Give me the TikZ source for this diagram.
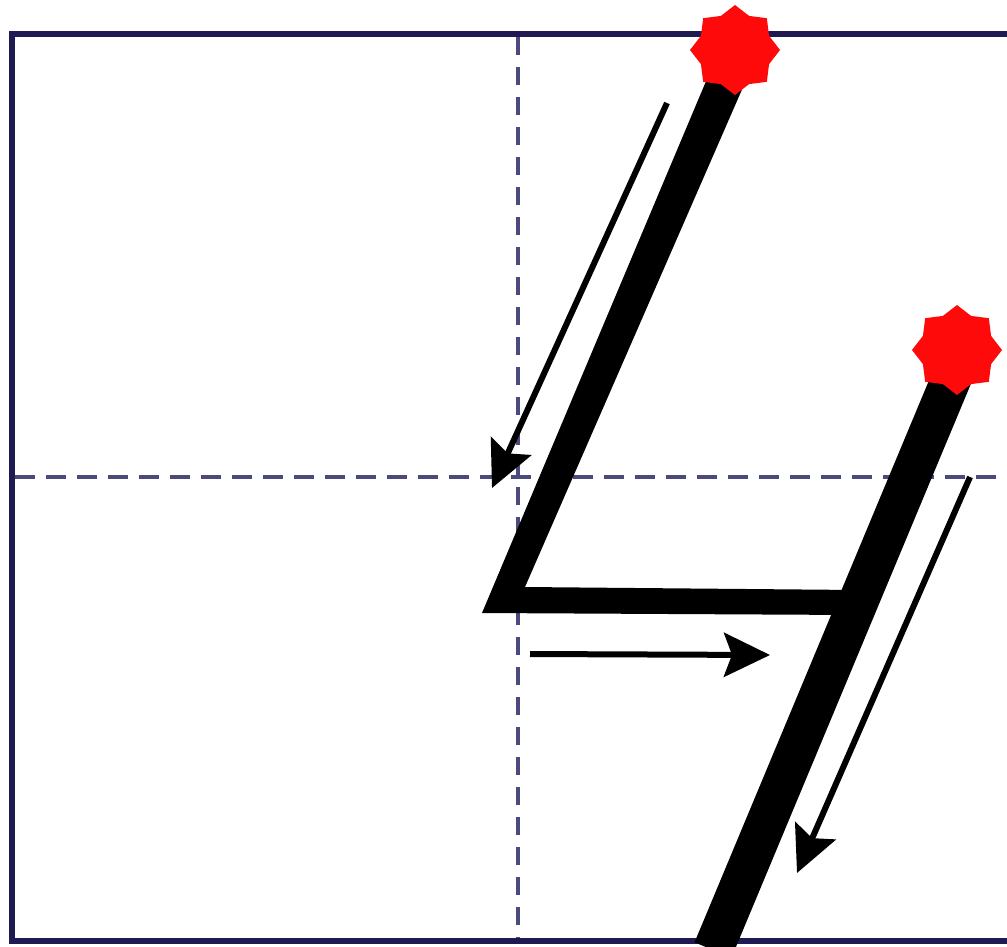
\documentclass[tikz,border=0pt]{standalone}
\usetikzlibrary{shapes.geometric,arrows.meta}
\definecolor{boxnavy}{HTML}{1F1B52}
\definecolor{guide}{HTML}{4A4A7C}
\definecolor{starred}{HTML}{FF0A0A}
\tikzset{
  frame/.style={draw=boxnavy,line width=6pt},
  guideline/.style={draw=guide,line width=4pt},
  penstroke/.style={draw=black,line join=miter,miter limit=10},
  penshape/.style={fill=black,draw=none},
  hint/.style={draw=black,line width=6pt,-{Stealth[length=46pt,width=44pt,inset=8pt]}},
  startstar/.style={star,star points=8,star point ratio=1.22,fill=starred,draw=none,minimum size=90pt,inner sep=0pt}
}
\begin{document}
\begin{tikzpicture}[x=1pt,y=-1pt]
\useasboundingbox (0,0) rectangle (1007,946);
\clip (0,0) rectangle (1007,946);
\fill[white] (0,0) rectangle (1007,946);
% guide lines
\draw[guideline,dash pattern=on 18pt off 12pt] (518,37) -- (518,940);
\draw[guideline,dash pattern=on 20pt off 11pt] (15,477) -- (1007,477);
% frame
\draw[frame] (1015,34) -- (12,34) -- (12,941) -- (1015,941);
% first stroke (diagonal then horizontal)
\coordinate (p1) at (720,48);
\coordinate (p2) at (754,62);
\coordinate (p3) at (525,587);
\coordinate (p4) at (858,590);
\coordinate (p5) at (858,615);
\coordinate (p6) at (482,613);
\fill[penshape] (p1) -- (p2) -- (p3) -- (p4) -- (p5) -- (p6) -- cycle;
% second stroke
\coordinate (s2top) at (955,370);
\coordinate (s2bot) at (713,950);
\draw[penstroke,line width=40pt] (s2top) -- (s2bot);
% stars
\node[startstar] (star1) at (735,50) {};
\node[startstar] (star2) at (957,350) {};
% direction arrows
\coordinate (a1s) at (667,103);
\coordinate (a1e) at (492,488);
\coordinate (a2s) at (530,654);
\coordinate (a2e) at (770,655);
\coordinate (a3s) at (970,477);
\coordinate (a3e) at (797,873);
\draw[hint] (a1s) -- (a1e);
\draw[hint] (a2s) -- (a2e);
\draw[hint] (a3s) -- (a3e);
\end{tikzpicture}
\end{document}
